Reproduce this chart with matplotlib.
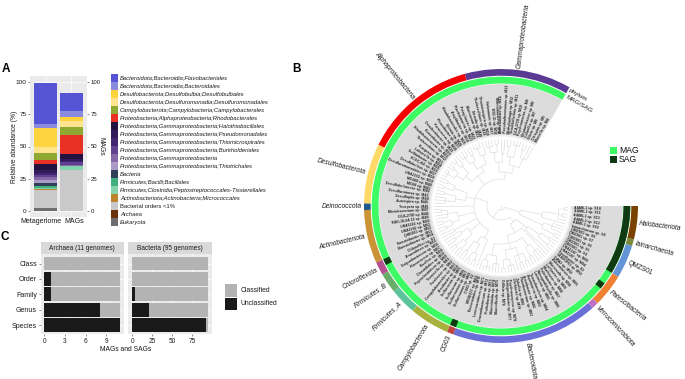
import numpy as np
import matplotlib
matplotlib.use("Agg")
import matplotlib.pyplot as plt
from matplotlib.patches import Rectangle

plt.rcParams['font.family'] = ['Liberation Sans', 'DejaVu Sans']

# ---------- data: panel A ----------
orders = ["Bacteroidota;Bacteroidia;Flavobacteriales", "Bacteroidota;Bacteroidia;Bacteroidales",
          "Desulfobacterota;Desulfobulbia;Desulfobulbales", "Desulfobacterota;Desulfuromonadia;Desulfuromonadales",
          "Campylobacterota;Campylobacteria;Campylobacterales", "Proteobacteria;Alphaproteobacteria;Rhodobacterales",
          "Proteobacteria;Gammaproteobacteria;Halothiobacillales", "Proteobacteria;Gammaproteobacteria;Pseudomonadales",
          "Proteobacteria;Gammaproteobacteria;Thiomicrospirales", "Proteobacteria;Gammaproteobacteria;Burkholderiales",
          "Proteobacteria;Gammaproteobacteria", "Proteobacteria;Gammaproteobacteria;Thiotrichales",
          "Bacteria", "Firmicutes;Bacilli;Bacillales", "Firmicutes;Clostridia;Peptostreptococcales-Tissierellales",
          "Actinobacteriota;Actinobacteria;Micrococcales", "Bacterial orders <1%", "Archaea", "Eukaryota"]
order_colors = ["#5454d4", "#8a8adf", "#fdd43e", "#fee48e", "#8fa832", "#e93025", "#23123f", "#331a59", "#412571",
                "#5f4190", "#8468a8", "#ab99c6", "#2f4058", "#3fb07e", "#85d3ad", "#bd832b", "#c9c9c9", "#6a3209", "#6e6e6e"]
metagenome = [32.5, 2.9, 14.8, 4.7, 5.3, 3.7, 4.0, 2.5, 1.5, 2.0, 2.0, 2.2, 2.3, 1.5, 1.0, 0.7, 14.3, 0.1, 1.9]
mags = [14.0, 5.0, 3.0, 5.0, 6.3, 14.7, 4.0, 1.5, 0.5, 2.5, 0.5, 0.5, 0.0, 0.0, 2.5, 0.0, 32.0, 0.0, 0.0]
samples = ["Metagenome", "MAGs"]
y_ticks_a = [0, 25, 50, 75, 100]

# ---------- data: panel C ----------
ranks = ["Class", "Order", "Family", "Genus", "Species"]
archaea_total = 11
archaea_unclassified = [0, 1, 1, 8, 11]
bacteria_total = 95
bacteria_unclassified = [0, 0, 4, 21, 92]

# ---------- data: panel B ----------
phyla = ["Halobacteriota", "Iainarchaeota", "QMZS01", "Patescibacteria", "Verrucomicrobiota", "Bacteroidota", "CG03",
         "Campylobacterota", "Firmicutes_A", "Firmicutes_B", "Chloroflexota", "Actinobacteriota", "Deinococcota",
         "Desulfobacterota", "Alphaproteobacteria", "Gammaproteobacteria"]
phylum_counts = [5, 1, 5, 5, 1, 22, 1, 6, 4, 3, 2, 8, 1, 9, 17, 16]
phylum_colors = ["#7a4200", "#7a8a3d", "#6495d8", "#f08032", "#c06fc6", "#6a70d8", "#c0443f", "#a8b13d", "#5cc49b",
                 "#6aac6a", "#b5508f", "#c99336", "#1f5a8a", "#ffd966", "#f50000", "#5b3a93"]
italic_flags = [1, 1, 0, 1, 1, 1, 0, 1, 1, 1, 1, 1, 1, 1, 1, 1]
sag_leaves = [0, 1, 2, 3, 4, 5, 6, 7, 8, 9, 10, 13, 39, 54]
leaf_labels = [
    "AAM6-1 sp. S14", "AAM6-1 sp. S11", "AAM6-1 sp. S13", "AAM6-1 sp. S12", "AAM6-1 sp. S10", "Iainarchaeum sp. S9",
    "QMZS01 sp. S8", "QMZS01 sp. S7", "QMZS01 sp. S6", "QMZS01 sp. S5", "QMZS01 sp. S4",
    "UBA1547 sp. M95", "UBA1547 sp. M94", "Paceibacter sp. S3", "JAAXOP01 sp. M93", "GWA2 sp. M92",
    "Akkermansia sp. M91",
    "Muricauda sp. M90", "Lutibacter sp. M89", "Maribacter sp. M88", "Polaribacter sp. M87", "Winogradskyella sp. M86",
    "Lacinutrix sp. M85", "Tenacibaculum sp. M84", "Aquimarina sp. M83", "Arenibacter sp. M82", "Flavobacterium sp. M81",
    "Zobellia sp. M80", "Ulvibacter sp. M79", "Psychroserpens sp. M78", "Salegentibacter sp. M77", "Gillisia sp. M76",
    "Mariniflexile sp. M75", "Marinilabilia sp. M74", "Prolixibacter sp. M73", "Draconibacterium sp. M72",
    "Lentimicrobium sp. M71", "Bacteroidales sp. M70", "M55B157 sp. M69",
    "CG03 sp. S2",
    "Sulfurimonas sp. M68", "Sulfurimonas sp. M67", "Sulfurovum sp. M66", "Sulfurovum sp. M65", "Arcobacter sp. M64",
    "Campylobacterales sp. M63",
    "Fusibacter sp. M62", "Tissierella sp. M61", "Peptoclostridium sp. M60", "Clostridiales sp. M59",
    "Bacillus sp. M58", "Planococcus sp. M57", "Exiguobacterium sp. M56",
    "Anaerolinea sp. M55", "Chloroflexi sp. S1",
    "Illumatobacter sp. M54", "Ilumatobacter sp. M53", "QHBO01 sp. M52", "UBA2242 sp. M51", "UBA5566 sp. M50",
    "RBG-16-64-13 sp. M49", "GCA-2700 sp. M48", "Microbacterium sp. M47",
    "Truepera sp. M46",
    "Aureispira sp. M45", "Desulfopila sp. M44", "Desulfuromusa sp. M43", "Desulfobulbaceae sp. M42", "MG04 sp. M41",
    "MG040 sp. M40", "UBA2250 sp. M39", "Desulfuromonadales sp. M38", "Desulfobulbus sp. M37",
    "SCGC-AG sp. M36", "Sulfitobacter sp. M35", "Loktanella sp. M34", "Ruegeria sp. M33", "Thalassobius sp. M32",
    "Rhodobacteraceae sp. M31", "Roseobacter sp. M30", "Octadecabacter sp. M29", "Paracoccus sp. M28",
    "Phaeobacter sp. M27", "Shimia sp. M26", "Rhodobacterales sp. M25", "Amylibacter sp. M24", "Planktomarina sp. M23",
    "Pelagibacter sp. M22", "Marinovum sp. M21", "Nereida sp. M20",
    "Thalassolituus sp. M19", "Thiomicrospira sp. M18", "Halomonas sp. M17", "BD2-11 sp. M16", "Marinobacter sp. M15",
    "Acinetobacter sp. M14", "Pseudoalteromonas sp. M13", "Methylophaga sp. M12", "Thioalkalivibrio sp. M11",
    "GCA-2720 sp. M10", "Psychromonas sp. M9", "Neptuniibacter sp. M8", "Colwellia sp. M7", "Vibrio sp. M6",
    "Oleispira sp. M5", "Moritella sp. M4"]

# tree: (branch radius, [children]); 0 marks a tip
L = 0
tree = (4, [
    (20, [(42, [(58, [(64, [L, L]), (62, [L, L]), L]), L]),
          (46, [(55, [L, L, L]), (60, [L, L])])]),
    (14, [
        (20, [(34, [(48, [(58, [L, L]), (60, [L, L])]), L]),
              (30, [L, (38, [(48, [(56, [L, L, L]), (58, [L, L])]),
                             (44, [(52, [(60, [L, L]), (60, [L, L]), L]), (54, [(60, [L, L, L]), (62, [L, L])])]),
                             (50, [(58, [L, L, L]), (56, [(62, [L, L, L]), L])])])])]),
        (27, [
            (36, [L, (44, [(54, [(60, [L, L]), (62, [L, L])]), (56, [L, L])])]),
            (40, [(50, [(58, [L, L]), (60, [L, L])]), (48, [(56, [L, L]), L])]),
            (52, [L, L]),
            (44, [(52, [(58, [L, L]), (60, [L, L])]), (54, [L, L, (60, [L, L])])]),
            L,
            (36, [(46, [(56, [L, L, L]), (58, [L, L])]), (50, [(60, [L, L]), (58, [L, L])])]),
            (38, [(46, [(54, [(62, [L, L, L]), (60, [L, L])]), (56, [(62, [L, L]), L])]),
                  (44, [(52, [(60, [L, L, L]), (58, [L, L])]), (54, [(62, [L, L, L]), L])])]),
            (34, [(44, [(54, [(60, [L, L, L]), (62, [L, L])]), (52, [L, L])]),
                  (42, [(50, [(60, [L, L]), (62, [L, L, L])]), (52, [(60, [L, L]), L, L])])]),
        ]),
    ]),
])

# ---------- layout ----------
W, H = 685, 379
fig = plt.figure(figsize=(W / 100, H / 100), dpi=100)
def box(x0, y0, x1, y1):
    return [x0 / W, 1 - y1 / H, (x1 - x0) / W, (y1 - y0) / H]

TXT = "#1a1a1a"
def theme(ax):
    ax.set_facecolor("#ebebeb")
    for s in ax.spines.values():
        s.set_visible(False)
    ax.grid(True, color="white", lw=0.5)
    ax.set_axisbelow(True)
    ax.tick_params(length=1.5, width=0.4, color="#333333", pad=1, labelsize=4.6, labelcolor=TXT)

# ---------- panel A ----------
axA = fig.add_axes(box(30, 76, 87, 217))
theme(axA)
for i, vals in enumerate([metagenome, mags]):
    top = sum(vals)
    for v, c in zip(vals, order_colors):
        if v > 0:
            axA.bar(i, v, bottom=top - v, width=0.9, color=c, lw=0)
        top -= v
axA.set_xlim(-0.6, 1.6)
axA.set_ylim(-5, 105)
axA.set_xticks([0, 1], ["", ""])
axA.set_yticks(y_ticks_a)
axA.set_ylabel("Relative abundance (%)", fontsize=4.9, labelpad=-1.5, color=TXT)
axA2 = axA.twinx()
axA2.set_ylim(-5, 105)
axA2.set_yticks(y_ticks_a)
for s in axA2.spines.values():
    s.set_visible(False)
axA2.tick_params(length=1.5, width=0.4, color="#333333", pad=1, labelsize=4.3, labelcolor=TXT)
axA2.set_ylabel("MAGs", fontsize=4.9, rotation=270, labelpad=2.5, color=TXT)

# ---------- panel C ----------
def panelC(pos, title, total, unclassified, ticks):
    ax = fig.add_axes(box(*pos))
    theme(ax)
    y = np.arange(len(ranks))
    un = np.array(unclassified)
    ax.barh(y, total - un, left=un, height=0.9, color="#b3b3b3", lw=0)
    ax.barh(y, un, height=0.9, color="#1a1a1a", lw=0)
    ax.set_xlim(-0.05 * total, 1.05 * total)
    ax.set_ylim(4.6, -0.6)
    ax.set_xticks(ticks)
    ax.set_yticks(y, ranks)
    ax.tick_params(axis='y', labelsize=5.0)
    ax.tick_params(axis='x', labelsize=4.7)
    strip = fig.add_axes(box(pos[0], 242.3, pos[2], pos[1]))
    strip.set_facecolor("#d9d9d9")
    strip.set_xticks([]); strip.set_yticks([])
    for s in strip.spines.values():
        s.set_visible(False)
    strip.text(0.5, 0.47, title, ha="center", va="center", fontsize=4.7, color=TXT, transform=strip.transAxes)
    return ax

panelC((40.5, 254.3, 124, 334.3), "Archaea (11 genomes)", archaea_total, archaea_unclassified, [0, 3, 6, 9])
axCb = panelC((128.4, 254.3, 211.8, 334.3), "Bacteria (95 genomes)", bacteria_total, bacteria_unclassified, [0, 25, 50, 75])
axCb.set_yticklabels([])
axCb.tick_params(axis='y', length=0)

# ---------- panel B ----------
cx, cy, Rmax = 501, 206, 215
axB = fig.add_axes(box(cx - Rmax, cy - Rmax, cx + Rmax, cy + Rmax), projection='polar')
axB.set_theta_zero_location("E")
axB.set_theta_direction(-1)
axB.set_ylim(0, Rmax)
axB.axis("off")
n = sum(phylum_counts)
step = np.deg2rad(300) / n
centers = (np.arange(n) + 0.5) * step

axB.bar(step * n / 2, 122 - 71, width=step * n, bottom=71, color="#dcdcdc", lw=0, zorder=1)
axB.bar(step * n / 2, 1.5, width=step * n, bottom=69.5, color="#eeeeee", lw=0, zorder=1)

# MAG / SAG ring: green base with the SAG leaves in dark green on top
is_sag = np.zeros(n, bool)
is_sag[sag_leaves] = True
axB.bar(step * n / 2, 6.8, width=step * n, bottom=122.5, color="#3dfb62", lw=0, zorder=2)
i = 0
while i < n:
    if is_sag[i]:
        j = i
        while j + 1 < n and is_sag[j + 1]:
            j += 1
        axB.bar((i + j + 1) / 2 * step, 6.8, width=(j + 1 - i) * step, bottom=122.5, color="#0f3a12", lw=0, zorder=3)
        i = j + 1
    else:
        i += 1

# phylum ring and labels
start = 0
for name, cnt, col, it in zip(phyla, phylum_counts, phylum_colors, italic_flags):
    axB.bar((start + cnt / 2) * step, 6.7, width=cnt * step, bottom=130.3, color=col, lw=0, zorder=2)
    a = (start + cnt / 2) * step
    deg = np.rad2deg(a)
    right = deg < 90 or deg > 270
    axB.text(a, 139, name, fontsize=4.8, style='italic' if it else 'normal', color=TXT,
             rotation=(-deg if right else 180 - deg), rotation_mode='anchor',
             ha='left' if right else 'right', va='center', zorder=3)
    start += cnt
axB.text(step * n + 0.008, 134.5, "phylum", fontsize=4.6, color=TXT, rotation=-30, rotation_mode='anchor', va='center', ha='left')
axB.text(step * n + 0.018, 127, "MAG/SAG", fontsize=4.6, color=TXT, rotation=-30, rotation_mode='anchor', va='center', ha='left')

# tip labels
for a, lab in zip(centers, leaf_labels):
    deg = np.rad2deg(a)
    right = deg < 90 or deg > 270
    axB.text(a, 73, lab, fontsize=2.5, fontweight='bold', color="#222222", rotation=(-deg if right else 180 - deg),
             rotation_mode='anchor', ha='left' if right else 'right', va='center', zorder=3)

# tree
counter = [0]
TIP_R = 67
TREE = dict(color="#d6d6d6", lw=0.4, zorder=2, solid_capstyle='butt')
def draw(node):
    if node == 0:
        a = centers[counter[0]]
        counter[0] += 1
        return a, TIP_R
    r, kids = node
    placed = [draw(k) for k in kids]
    angs = [p[0] for p in placed]
    for ang, rk in placed:
        axB.plot([ang, ang], [r, rk], **TREE)
    axB.plot(np.linspace(angs[0], angs[-1], 40), np.full(40, r), **TREE)
    return (angs[0] + angs[-1]) / 2, r
root_angle, root_r = draw(tree)
axB.plot([root_angle, root_angle], [0, root_r], **TREE)
axB.set_ylim(0, Rmax)

# ---------- overlay: legends and panel letters ----------
px = fig.add_axes([0, 0, 1, 1], zorder=10)
px.set_xlim(0, W); px.set_ylim(H, 0); px.axis("off")
for i, (name, col) in enumerate(zip(orders, order_colors)):
    y0 = 74.3 + 8 * i
    px.add_patch(Rectangle((110.7, y0), 7.6, 7.6, color=col, lw=0))
    upright = name in ("Bacterial orders <1%",)
    px.text(120, y0 + 3.8, name, fontsize=4.25, style='normal' if upright else 'italic', va='center', color=TXT)

for lab, xc in zip(samples, [41, 74.5]):
    px.text(xc, 221.5, lab, fontsize=5.0, ha='center', va='center', color=TXT)

for (label, col, y0) in [("Classified", "#b3b3b3", 284.3), ("Unclassified", "#1a1a1a", 297.7)]:
    px.add_patch(Rectangle((225, y0), 12.3, 12.3, color=col, lw=0))
    px.text(241, y0 + 6.2, label, fontsize=4.9, va='center', color=TXT)

for (label, col, y0) in [("MAG", "#3dfb62", 147), ("SAG", "#0f3a12", 156)]:
    px.add_patch(Rectangle((610.5, y0), 7, 7, color=col, lw=0))
    px.text(619, y0 + 3.5, label, fontsize=6.2, va='center', color="#111111")

px.text(126, 349.5, "MAGs and SAGs", fontsize=4.9, ha='center', va='center', color=TXT)
for t, x, y in [("A", 1.5, 69), ("B", 292.5, 69.5), ("C", 0.5, 237)]:
    px.text(x, y, t, fontsize=8.5, fontweight='bold', va='center', ha='left', color="black")

fig.savefig("out.png", dpi=100)
